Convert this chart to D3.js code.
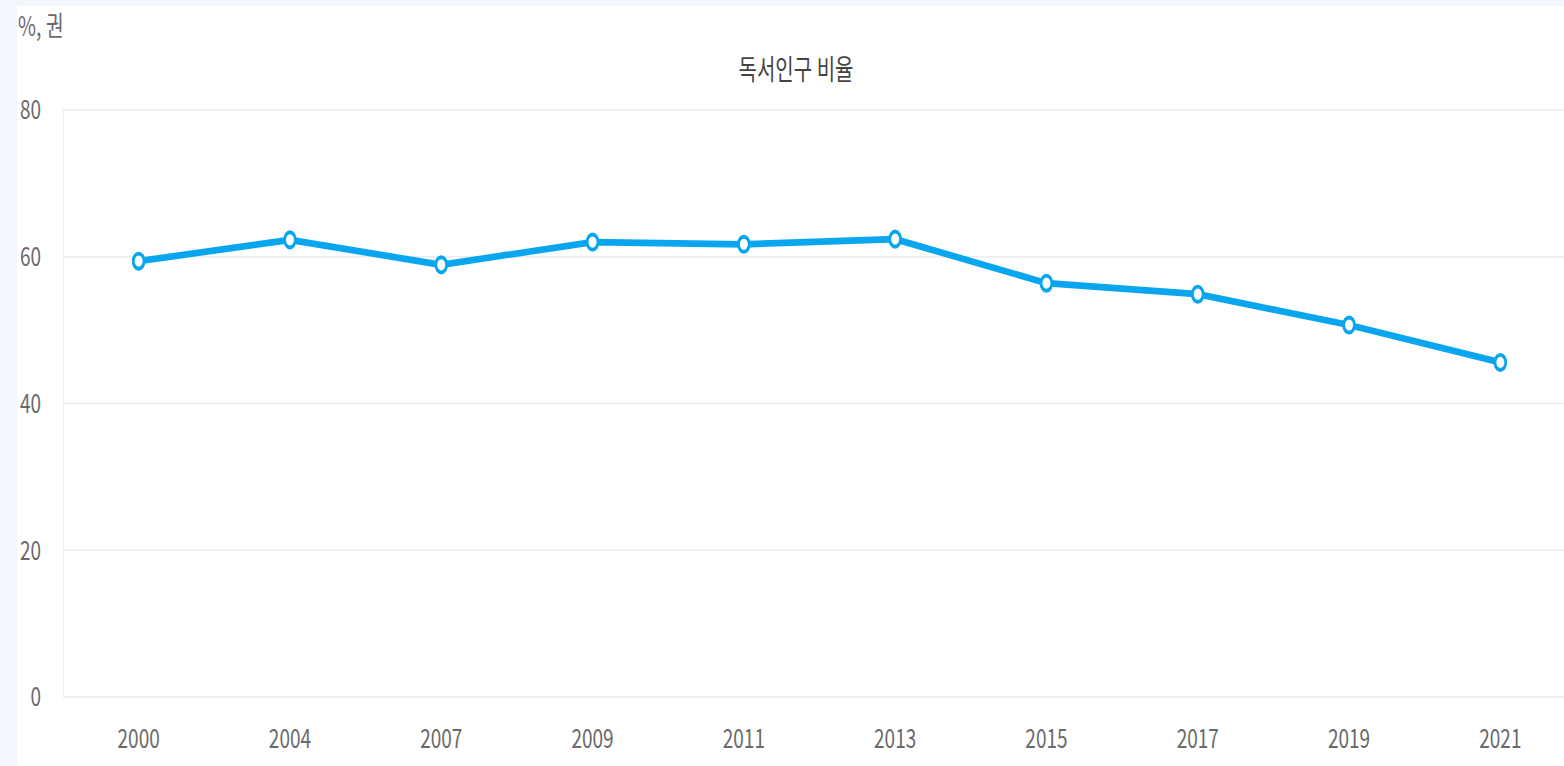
<html>
<head>
    <meta charset="utf-8" />
    <title>독서인구 비율</title>
    <script src="https://d3js.org/d3.v7.min.js"></script>
</head>
<style>
    body {
        margin: 0;
        padding: 0;
        background: #f2f6fd;
    }

    #chart {
        position: absolute;
        top: 0;
        left: 0;
    }
</style>

<body>
    <div id="chart"></div>
</body>

<script type="text/javascript">

    // data
    const years = ['2000', '2004', '2007', '2009', '2011', '2013', '2015', '2017', '2019', '2021'];
    const readingRate = [59.4, 62.3, 58.9, 62.0, 61.7, 62.4, 56.4, 54.9, 50.7, 45.6];
    const yTicks = [0, 20, 40, 60, 80];
    const title = '독서인구 비율';
    const unitLabel = '%, 권';

    // the picture is stretched vertically, so draw in a flat box and stretch it
    const W = 1564, H = 766, stretch = 1.4;
    const vh = H / stretch;

    const font = '"Noto Sans CJK KR", "Noto Sans", sans-serif';

    const svg = d3.select('#chart')
        .append('svg')
        .attr('width', W)
        .attr('height', H)
        .attr('viewBox', `0 0 ${W} ${vh}`)
        .attr('preserveAspectRatio', 'none');

    // white panel
    svg.append('rect')
        .attr('x', 17)
        .attr('y', 6 / stretch)
        .attr('width', W)
        .attr('height', vh)
        .attr('fill', '#ffffff');

    const x = d3.scalePoint()
        .domain(years)
        .range([63, 1576])
        .padding(0.5);

    const y = d3.scaleLinear()
        .domain([0, 80])
        .range([697 / stretch, 110 / stretch]);

    // grid lines
    svg.append('g')
        .selectAll('line')
        .data(yTicks)
        .enter()
        .append('line')
        .attr('x1', 63)
        .attr('x2', 1576)
        .attr('y1', d => y(d))
        .attr('y2', d => y(d))
        .attr('stroke', '#ececec')
        .attr('stroke-width', 1.2);

    // left axis line
    svg.append('line')
        .attr('x1', 63.5)
        .attr('x2', 63.5)
        .attr('y1', y(80))
        .attr('y2', y(0))
        .attr('stroke', '#ececec')
        .attr('stroke-width', 1.2);

    // y tick labels
    svg.append('g')
        .selectAll('text')
        .data(yTicks)
        .enter()
        .append('text')
        .attr('x', 41)
        .attr('y', d => y(d))
        .attr('dy', '0.35em')
        .attr('text-anchor', 'end')
        .style('font-family', font)
        .style('font-size', '19px')
        .attr('fill', '#6a6a6a')
        .text(d => d);

    // x tick labels
    svg.append('g')
        .selectAll('text')
        .data(years)
        .enter()
        .append('text')
        .attr('x', d => x(d))
        .attr('y', 534)
        .attr('text-anchor', 'middle')
        .style('font-family', font)
        .style('font-size', '19px')
        .attr('fill', '#6a6a6a')
        .text(d => d);

    // title + unit
    svg.append('text')
        .attr('x', 796)
        .attr('y', 57)
        .attr('text-anchor', 'middle')
        .style('font-family', font)
        .style('font-size', '20px')
        .attr('fill', '#444')
        .text(title);

    svg.append('text')
        .attr('x', 18)
        .attr('y', 25.5)
        .style('font-family', font)
        .style('font-size', '19.5px')
        .attr('fill', '#6a6a6a')
        .text(unitLabel);

    // the line
    const points = years.map((yr, i) => [x(yr), y(readingRate[i])]);

    svg.append('path')
        .datum(points)
        .attr('d', d3.line())
        .attr('fill', 'none')
        .attr('stroke', '#0aa5ef')
        .attr('stroke-width', 4.8)
        .attr('stroke-linejoin', 'round');

    svg.append('g')
        .selectAll('circle')
        .data(points)
        .enter()
        .append('circle')
        .attr('cx', d => d[0])
        .attr('cy', d => d[1])
        .attr('r', 5.4)
        .attr('fill', '#fff')
        .attr('stroke', '#0aa5ef')
        .attr('stroke-width', 2.8);

</script>

</html>
